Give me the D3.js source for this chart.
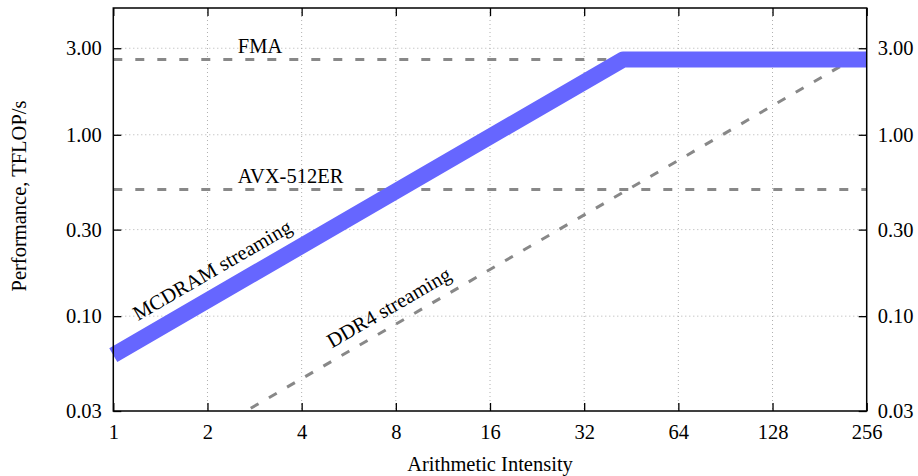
<!DOCTYPE html>
<html><head><meta charset="utf-8">
<script src="https://cdn.jsdelivr.net/npm/d3@7"></script>
<style>
body{margin:0;background:#fff}
text{font-family:"Liberation Serif","Times New Roman",serif;fill:#000}
</style>
</head><body><svg id="c" width="918" height="476"></svg>
<script>
// ---- data ----
const xTicks = [1, 2, 4, 8, 16, 32, 64, 128, 256];
const yTicks = [0.03, 0.1, 0.3, 1, 3];
const yTickLabels = ["0.03", "0.10", "0.30", "1.00", "3.00"];
const ceilingNames = ["FMA", "AVX-512ER"];
const ceilingValues = [2.6, 0.5];
const bandwidthNames = ["MCDRAM streaming", "DDR4 streaming"];
const bandwidthValues = [0.061, 0.0113]; // TFLOP/s per unit of arithmetic intensity
const peakValue = 2.6;
const xDomain = [1, 256];
const yDomain = [0.03, 5];
const ddr4Start = 2.75;

// ---- layout ----
const W = 918, H = 476;
const m = {left: 113.3, right: W - 866.7, top: 8, bottom: H - 411};
const svg = d3.select("#c");
svg.append("rect").attr("width", W).attr("height", H).attr("fill", "#fff");

const x = d3.scaleLog().base(2).domain(xDomain).range([m.left, W - m.right]);
const y = d3.scaleLog().domain(yDomain).range([H - m.bottom, m.top]);
const fs = 20.5;

// clip
svg.append("clipPath").attr("id", "clip").append("rect")
  .attr("x", m.left).attr("y", m.top)
  .attr("width", x.range()[1] - m.left).attr("height", y.range()[0] - m.top);

// grid
const grid = svg.append("g").attr("stroke", "#b0b0b0").attr("stroke-width", 1).attr("stroke-dasharray", "1,3");
grid.selectAll(".gx").data(xTicks.slice(1, -1)).join("line")
  .attr("x1", d => x(d)).attr("x2", d => x(d)).attr("y1", y.range()[1]).attr("y2", y.range()[0]);
grid.selectAll(".gy").data(yTicks.slice(1)).join("line")
  .attr("y1", d => y(d)).attr("y2", d => y(d)).attr("x1", x.range()[0]).attr("x2", x.range()[1]);

// axes
const fmtY = d => yTickLabels[yTicks.indexOf(d)];
const axB = d3.axisBottom(x).tickValues(xTicks).tickFormat(d3.format("d")).tickSizeInner(-8).tickSizeOuter(0).tickPadding(13);
const axT = d3.axisTop(x).tickValues(xTicks).tickFormat("").tickSizeInner(-8).tickSizeOuter(0);
const axL = d3.axisLeft(y).tickValues(yTicks).tickFormat(fmtY).tickSizeInner(-8).tickSizeOuter(0).tickPadding(11.5);
const axR = d3.axisRight(y).tickValues(yTicks).tickFormat(fmtY).tickSizeInner(-8).tickSizeOuter(0).tickPadding(11);
function style(g){ g.select(".domain").remove(); g.selectAll("line").attr("stroke","#000").attr("stroke-width",1.3);
  g.selectAll("text").style("font-family","Liberation Serif").style("font-size", fs+"px").attr("fill","#000"); }
svg.append("g").attr("transform", `translate(0,${y.range()[0]})`).call(axB).call(style);
svg.append("g").attr("transform", `translate(0,${y.range()[1]})`).call(axT).call(style);
svg.append("g").attr("transform", `translate(${x.range()[0]},0)`).call(axL).call(style);
svg.append("g").attr("transform", `translate(${x.range()[1]},0)`).call(axR).call(style);

// lines
const plot = svg.append("g").attr("clip-path", "url(#clip)");
const line = d3.line().x(d => x(d[0])).y(d => y(d[1]));
ceilingValues.forEach(v => {
  plot.append("path").attr("d", line([[xDomain[0], v], [xDomain[1], v]]))
    .attr("fill", "none").attr("stroke", "#888").attr("stroke-width", 3).attr("stroke-dasharray", "9,13");
});
plot.append("path").attr("d", line([[ddr4Start, bandwidthValues[1]*ddr4Start], [xDomain[1], bandwidthValues[1]*xDomain[1]]]))
  .attr("fill", "none").attr("stroke", "#888").attr("stroke-width", 3).attr("stroke-dasharray", "9,12");

const ridge = peakValue / bandwidthValues[0];
svg.append("path").attr("d", line([[xDomain[0], bandwidthValues[0]*xDomain[0]], [ridge, peakValue], [xDomain[1], peakValue]]))
  .attr("fill", "none").attr("stroke", "#6666ff").attr("stroke-width", 16).attr("stroke-linejoin", "round");

// frame
svg.append("rect").attr("x", m.left).attr("y", m.top)
  .attr("width", x.range()[1] - m.left).attr("height", y.range()[0] - m.top)
  .attr("fill", "none").attr("stroke", "#000").attr("stroke-width", 1.5);

// ceiling labels (anchored in data coordinates)
const ceilLabelX = [2.5, 2.5];
const ceilLabelY = [2.82, 0.543];
ceilingNames.forEach((n, i) => {
  svg.append("text").attr("x", x(ceilLabelX[i])).attr("y", y(ceilLabelY[i])).attr("font-size", fs).text(n);
});
// bandwidth labels (rotated along slope)
const ang = -Math.atan((y(1) - y(2)) / (x(2) - x(1))) * 180 / Math.PI;
const bwLabelX = [1.2, 5.0];
const bwLabelY = [0.094, 0.0664];
bandwidthNames.forEach((n, i) => {
  const px = x(bwLabelX[i]), py = y(bwLabelY[i]);
  svg.append("text").attr("transform", `translate(${px},${py}) rotate(${ang})`).attr("font-size", fs).text(n);
});

// axis titles
svg.append("text").attr("x", (x.range()[0] + x.range()[1]) / 2).attr("y", 471).attr("text-anchor", "middle")
  .attr("font-size", fs).text("Arithmetic Intensity");
svg.append("text").attr("transform", "translate(26,196) rotate(-90)").attr("text-anchor", "middle")
  .attr("font-size", fs).text("Performance, TFLOP/s");
</script></body></html>
